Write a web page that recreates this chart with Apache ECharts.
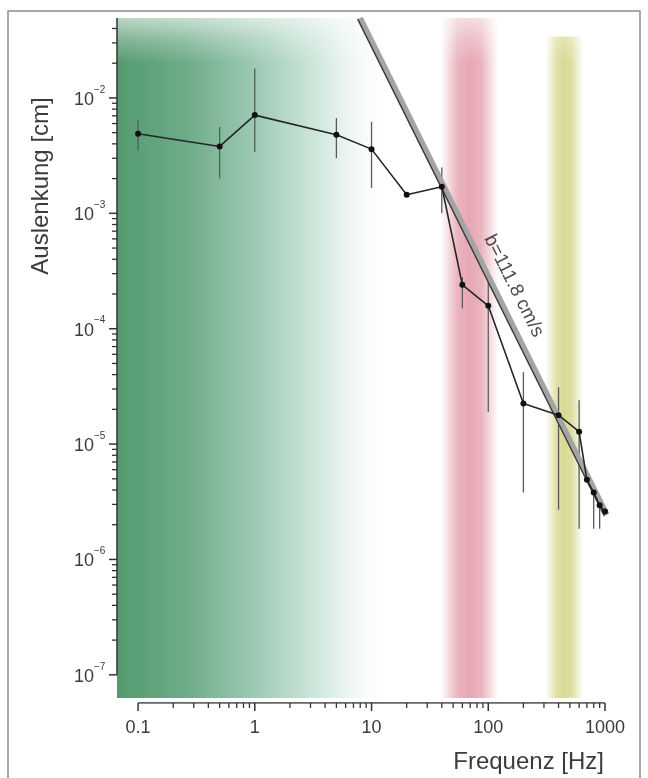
<!DOCTYPE html>
<html>
<head>
<meta charset="utf-8">
<script src="https://cdn.jsdelivr.net/npm/echarts@6/dist/echarts.min.js"></script>
<style>
  html, body { margin: 0; padding: 0; background: #ffffff; }
  #chart { width: 648px; height: 778px; }
</style>
</head>
<body>
<div id="chart"></div>
<script>
// ---- data ----
const freqHz    = [0.1, 0.5, 1, 5, 10, 20, 40, 60, 100, 200, 400, 600, 700, 800, 900, 1000];
const amplitude = [4.9e-3, 3.8e-3, 7.1e-3, 4.8e-3, 3.6e-3, 1.45e-3, 1.7e-3, 2.4e-4, 1.58e-4, 2.25e-5, 1.78e-5, 1.28e-5, 4.9e-6, 3.8e-6, 2.95e-6, 2.6e-6];
const errUpper  = [6.45e-3, 5.6e-3, 1.8e-2, 6.7e-3, 6.2e-3, null, 2.5e-3, 2.8e-4, 3.0e-4, 4.2e-5, 3.1e-5, 2.4e-5, null, 4.3e-6, 3.4e-6, null];
const errLower  = [3.5e-3, 2.0e-3, 3.4e-3, 3.0e-3, 1.66e-3, null, 1.0e-3, 1.5e-4, 1.9e-5, 3.8e-6, 2.7e-6, 1.85e-6, null, 1.85e-6, 1.85e-6, null];

// regression line b = 111.8 cm/s (end points)
const regFreq = [7.97, 1034];
const regAmp  = [0.0493, 2.435e-6];
const regLabel = 'b=111.8 cm/s';
const regLabelAt = [165, 2.35e-4];

// shaded frequency bands
const greenBand  = [0.066, 16];
const redBand    = [39, 122];
const yellowBand = [310, 650];

// axes
const X_MIN = 0.066, X_MAX = 1000;
const Y_MIN = 5.7e-8, Y_MAX = 0.0493;
const xTickValues = [0.1, 1, 10, 100, 1000];
const xTickLabels = ['0.1', '1', '10', '100', '1000'];
const yTickValues = [1e-7, 1e-6, 1e-5, 1e-4, 1e-3, 1e-2];
const yTickExp    = ['\u22127', '\u22126', '\u22125', '\u22124', '\u22123', '\u22122'];

const FONT = '"Liberation Sans", Arial, Helvetica, sans-serif';
const TXT = '#3c3c3c';

// minor ticks (decade subdivisions)
const xTicks = [];
xTickValues.forEach((v, i) => xTicks.push([v, Y_MIN, 1, i]));
for (let k = -1; k <= 2; k++) for (let m = 2; m <= 9; m++) xTicks.push([m * Math.pow(10, k), Y_MIN, 0, -1]);
const yTicks = [];
yTickValues.forEach((v, i) => yTicks.push([X_MIN, v, 1, i]));
for (let k = -7; k <= -2; k++) for (let m = 2; m <= 9; m++) {
  const v = m * Math.pow(10, k);
  if (v < Y_MAX) yTicks.push([X_MIN, v, 0, -1]);
}

const bottomOfBands = 6.3e-8;

function hGrad(stops) {
  return { type: 'linear', x: 0, y: 0, x2: 1, y2: 0, colorStops: stops };
}

const chart = echarts.init(document.getElementById('chart'), null, { renderer: 'canvas' });

const option = {
  backgroundColor: '#ffffff',
  animation: false,
  grid: { left: 117, right: 43, top: 18, bottom: 75, containLabel: false },
  xAxis: {
    type: 'log', logBase: 10, min: X_MIN, max: X_MAX,
    axisLine: { show: false }, axisTick: { show: false }, axisLabel: { show: false },
    splitLine: { show: false }
  },
  yAxis: {
    type: 'log', logBase: 10, min: Y_MIN, max: Y_MAX,
    axisLine: { show: false }, axisTick: { show: false }, axisLabel: { show: false },
    splitLine: { show: false }
  },
  graphic: [
    { type: 'rect', shape: { x: 8, y: 11, width: 632, height: 790 },
      style: { fill: 'none', stroke: '#8c8c8c', lineWidth: 1.5 }, z: 100 },
    { type: 'text', x: 41, y: 186, rotation: Math.PI / 2,
      style: { text: 'Auslenkung [cm]', fill: TXT, font: '24px ' + FONT, align: 'center', verticalAlign: 'middle' } },
    { type: 'text', x: 604, y: 762,
      style: { text: 'Frequenz [Hz]', fill: TXT, font: '24px ' + FONT, align: 'right', verticalAlign: 'middle' } },
    { type: 'text', x: 311, y: 581,
      style: { text: 'Spalt 7', fill: '#333', font: '24px ' + FONT, align: 'right', verticalAlign: 'middle' } },
    { type: 'text', x: 311, y: 607,
      style: { text: 'n=16', fill: '#333', font: '24px ' + FONT, align: 'right', verticalAlign: 'middle' } }
  ],
  series: [
    // background bands
    {
      type: 'line', data: [], silent: true, z: 1,
      markArea: {
        silent: true,
        data: [
          [{ xAxis: greenBand[0], yAxis: Y_MAX, itemStyle: { color: hGrad([
              { offset: 0, color: 'rgba(84,154,112,1)' },
              { offset: 0.25, color: 'rgba(110,172,136,1)' },
              { offset: 0.5, color: 'rgba(158,202,180,1)' },
              { offset: 0.75, color: 'rgba(214,235,226,1)' },
              { offset: 1, color: 'rgba(255,255,255,0)' }]) } },
           { xAxis: greenBand[1], yAxis: bottomOfBands }],
          [{ xAxis: redBand[0], yAxis: Y_MAX, itemStyle: { color: hGrad([
              { offset: 0, color: 'rgba(226,150,164,0)' },
              { offset: 0.3, color: 'rgba(226,150,164,0.72)' },
              { offset: 0.5, color: 'rgba(224,146,160,0.8)' },
              { offset: 0.7, color: 'rgba(226,150,164,0.72)' },
              { offset: 1, color: 'rgba(226,150,164,0)' }]) } },
           { xAxis: redBand[1], yAxis: bottomOfBands }],
          [{ xAxis: yellowBand[0], yAxis: 0.034, itemStyle: { color: hGrad([
              { offset: 0, color: 'rgba(214,214,140,0)' },
              { offset: 0.3, color: 'rgba(214,214,140,0.78)' },
              { offset: 0.5, color: 'rgba(210,210,130,0.85)' },
              { offset: 0.7, color: 'rgba(214,214,140,0.78)' },
              { offset: 1, color: 'rgba(214,214,140,0)' }]) } },
           { xAxis: yellowBand[1], yAxis: bottomOfBands }],
          [{ xAxis: X_MIN, yAxis: Y_MAX, itemStyle: { color: { type: 'linear', x: 0, y: 0, x2: 0, y2: 1, colorStops: [
              { offset: 0, color: 'rgba(255,255,255,0.6)' },
              { offset: 0.5, color: 'rgba(255,255,255,0.25)' },
              { offset: 1, color: 'rgba(255,255,255,0)' }] } } },
           { xAxis: X_MAX, yAxis: 0.02 }]
        ]
      }
    },
    // axis lines
    {
      type: 'line', silent: true, z: 6, symbol: 'none',
      data: [[X_MIN, 1e-7], [X_MIN, Y_MAX]],
      lineStyle: { color: '#333', width: 1.5 }
    },
    {
      type: 'line', silent: true, z: 6, symbol: 'none',
      data: [[xTickValues[0], Y_MIN], [xTickValues[xTickValues.length - 1], Y_MIN]],
      lineStyle: { color: '#333', width: 1.5 }
    },
    // x ticks + labels
    {
      type: 'custom', silent: true, z: 6, clip: false,
      data: xTicks,
      renderItem: function (params, api) {
        const p = api.coord([api.value(0), api.value(1)]);
        const major = api.value(2) === 1;
        const len = major ? 8 : 5;
        const ch = [{ type: 'line', shape: { x1: p[0], y1: p[1], x2: p[0], y2: p[1] + len },
          style: { stroke: '#333', lineWidth: major ? 1.5 : 1.3 } }];
        if (major) {
          ch.push({ type: 'text', style: { text: xTickLabels[api.value(3)], x: p[0], y: p[1] + 25,
            fill: TXT, font: '18px ' + FONT, align: 'center', verticalAlign: 'middle' } });
        }
        return { type: 'group', children: ch };
      }
    },
    // y ticks + labels
    {
      type: 'custom', silent: true, z: 6, clip: false,
      data: yTicks,
      renderItem: function (params, api) {
        const p = api.coord([api.value(0), api.value(1)]);
        const major = api.value(2) === 1;
        const len = major ? 8 : 5;
        const ch = [{ type: 'line', shape: { x1: p[0], y1: p[1], x2: p[0] - len, y2: p[1] },
          style: { stroke: '#333', lineWidth: major ? 1.5 : 1.3 } }];
        if (major) {
          ch.push({ type: 'text', style: { text: '10', x: p[0] - 23, y: p[1] + 2,
            fill: TXT, font: '18px ' + FONT, align: 'right', verticalAlign: 'middle' } });
          ch.push({ type: 'text', style: { text: yTickExp[api.value(3)], x: p[0] - 23, y: p[1] - 8,
            fill: TXT, font: '10px ' + FONT, align: 'left', verticalAlign: 'middle' } });
        }
        return { type: 'group', children: ch };
      }
    },
    // error bars
    {
      type: 'custom', silent: true, z: 3,
      data: freqHz.map((f, i) => [f, errLower[i], errUpper[i]]).filter(d => d[1] != null),
      renderItem: function (params, api) {
        const a = api.coord([api.value(0), api.value(1)]);
        const b = api.coord([api.value(0), api.value(2)]);
        return { type: 'line', shape: { x1: a[0], y1: a[1], x2: b[0], y2: b[1] },
          style: { stroke: '#5a5a5a', lineWidth: 1.3 } };
      }
    },
    // regression line (gray band with dark edge)
    {
      type: 'custom', silent: true, z: 4,
      data: [[regFreq[0], regAmp[0], regFreq[1], regAmp[1]]],
      renderItem: function (params, api) {
        const a = api.coord([api.value(0), api.value(1)]);
        const b = api.coord([api.value(2), api.value(3)]);
        const dx = b[0] - a[0], dy = b[1] - a[1];
        const L = Math.sqrt(dx * dx + dy * dy);
        const nx = -dy / L, ny = dx / L; // lower-left normal
        const o = 2.6;
        return { type: 'group', children: [
          { type: 'line', shape: { x1: a[0], y1: a[1], x2: b[0], y2: b[1] },
            style: { stroke: '#a4a4a4', lineWidth: 6, lineCap: 'butt' } },
          { type: 'line', shape: { x1: a[0] + nx * o, y1: a[1] + ny * o, x2: b[0] + nx * o, y2: b[1] + ny * o },
            style: { stroke: '#3a3a3a', lineWidth: 1.4 } }
        ] };
      }
    },
    // regression annotation
    {
      type: 'scatter', silent: true, z: 7, symbolSize: 0,
      data: [regLabelAt],
      label: { show: true, position: 'inside', formatter: regLabel, rotate: -63.4,
        color: '#222', fontSize: 19, fontFamily: FONT }
    },
    // measured data
    {
      type: 'line', silent: true, z: 5,
      data: freqHz.map((f, i) => [f, amplitude[i]]),
      symbol: 'circle', symbolSize: 6,
      lineStyle: { color: '#262626', width: 1.6 },
      itemStyle: { color: '#111' }
    }
  ]
};
chart.setOption(option);
</script>
</body>
</html>
